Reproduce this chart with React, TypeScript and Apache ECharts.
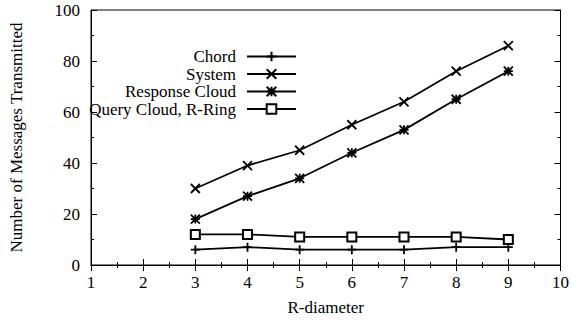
import React, { useEffect, useRef } from "react";
import * as echarts from "echarts";

const xValues = [3, 4, 5, 6, 7, 8, 9];
const chord = [6, 7, 6, 6, 6, 7, 7];
const system = [30, 39, 45, 55, 64, 76, 86];
const responseCloud = [18, 27, 34, 44, 53, 65, 76];
const queryCloud = [12, 12, 11, 11, 11, 11, 10];
const seriesNames = ["Chord", "System", "Response Cloud", "Query Cloud, R-Ring"];

const PLUS = "path://M0,5L10,5M5,0L5,10";
const CROSS = "path://M0,0L10,10M0,10L10,0";
const STAR = "path://M0,0L10,10M0,10L10,0M0,5L10,5M5,0L5,10";

const FONT = "'Liberation Serif', 'Times New Roman', Times, serif";
const FS = 17;

export default function App() {
  const ref = useRef<HTMLDivElement>(null);
  useEffect(() => {
    const chart = echarts.init(ref.current!, undefined, { renderer: "svg" });
    const pairs = (ys: number[]) => xValues.map((x, i) => [x, ys[i]]);
    const mk = (name: string, ys: number[], symbol: string, size: number) => ({
      name,
      type: "line",
      data: pairs(ys),
      symbol,
      symbolSize: size,
      showSymbol: true,
      lineStyle: { color: "#000", width: 1.8 },
      itemStyle: { color: "#000", borderColor: "#000", borderWidth: 1.8 },
      xAxisIndex: 0,
      yAxisIndex: 0,
    });
    const legendTops = [48, 65.5, 83, 100.5];
    const common = {
      orient: "vertical",
      align: "right",
      right: 275,
      padding: 0,
      itemWidth: 49,
      itemHeight: 12,
      itemGap: 10,
      textStyle: { fontFamily: FONT, fontSize: FS, lineHeight: 14, color: "#000", padding: [0, 6, 0, 0] },
    };
    const axisCommon = {
      axisLine: { show: true, lineStyle: { color: "#000", width: 1 } },
      axisTick: { show: true, inside: true, length: 6, lineStyle: { color: "#000" } },
      minorTick: { show: true, splitNumber: 2, length: 3, lineStyle: { color: "#000" } },
      splitLine: { show: false },
    };
    chart.setOption({
      animation: false,
      textStyle: { fontFamily: FONT },
      grid: { left: 88, right: 11, top: 10, bottom: 57, show: true, borderColor: "#000", borderWidth: 1 },
      legend: seriesNames.map((n, i) => ({ ...common, data: [n], top: legendTops[i] })),
      xAxis: [
        {
          type: "value",
          min: 1,
          max: 10,
          interval: 1,
          name: "R-diameter",
          nameLocation: "middle",
          nameGap: 34,
          nameTextStyle: { fontFamily: FONT, fontSize: FS, color: "#000" },
          axisLabel: { fontFamily: FONT, fontSize: FS, color: "#000", margin: 9 },
          ...axisCommon,
        },
        {
          type: "value",
          min: 1,
          max: 10,
          interval: 1,
          position: "top",
          axisLabel: { show: false },
          ...axisCommon,
        },
      ],
      yAxis: [
        {
          type: "value",
          min: 0,
          max: 100,
          interval: 20,
          name: "Number of Messages Transmitted",
          nameLocation: "middle",
          nameGap: 66,
          nameTextStyle: { fontFamily: FONT, fontSize: FS, color: "#000" },
          axisLabel: { fontFamily: FONT, fontSize: FS, color: "#000", margin: 11 },
          ...axisCommon,
        },
        {
          type: "value",
          min: 0,
          max: 100,
          interval: 20,
          position: "right",
          axisLabel: { show: false },
          ...axisCommon,
        },
      ],
      series: [
        mk("Chord", chord, PLUS, 9),
        mk("System", system, CROSS, 9),
        mk("Response Cloud", responseCloud, STAR, 9),
        mk("Query Cloud, R-Ring", queryCloud, "emptyRect", 9),
      ],
    });
    return () => chart.dispose();
  }, []);
  return <div ref={ref} style={{ width: 572, height: 322, position: "absolute", left: 0, top: 0 }} />;
}
